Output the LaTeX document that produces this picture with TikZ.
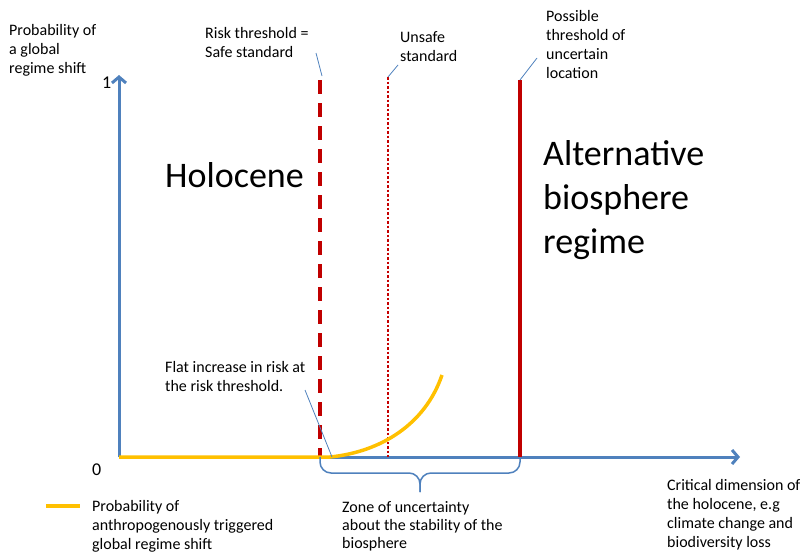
\documentclass[tikz,border=0pt]{standalone}
\usepackage{fontspec}
\setmainfont{Carlito}
\usetikzlibrary{arrows.meta}

\definecolor{axisblue}{HTML}{4F81BD}
\definecolor{threshred}{HTML}{C00000}
\definecolor{riskorange}{HTML}{FFC000}

\tikzset{
  lbl/.style={anchor=base west, align=left, inner sep=0pt, font=\fontsize{16}{19}\selectfont},
  bigtext/.style={anchor=base west, align=left, inner sep=0pt, font=\fontsize{36}{44}\selectfont},
  axisline/.style={draw=axisblue, line width=3pt, -{Straight Barb[length=6pt,width=14pt]}},
  leader/.style={draw=axisblue, line width=0.8pt},
  safeline/.style={draw=threshred, line width=4pt, dash pattern=on 14pt off 9pt},
  unsafeline/.style={draw=threshred!90!red, line width=2pt, dash pattern=on 2.5pt off 2pt},
  uncertainline/.style={draw=threshred, line width=4pt},
  riskcurve/.style={draw=riskorange, line width=3.5pt},
}

\begin{document}
\begin{tikzpicture}[x=1pt, y=-1pt]
\useasboundingbox (0,0) rectangle (801,552);

% axes
\coordinate (origin) at (119,457);
\coordinate (ytip) at (119,75);
\coordinate (xtip) at (740,457);
\draw[axisline] (origin) -- (ytip);
\draw[axisline] (origin) -- (xtip);
\node[lbl, font=\fontsize{18}{19}\selectfont] (one) at (102,88) {1};
\node[lbl, font=\fontsize{18}{19}\selectfont] (zero) at (92,475) {0};

% thresholds
\coordinate (safetop) at (320,80);
\coordinate (safebot) at (320,457);
\coordinate (unsafetop) at (388,77);
\coordinate (unsafebot) at (388,457);
\coordinate (uncerttop) at (520,80);
\coordinate (uncertbot) at (520,457);
\draw[safeline] (safetop) -- (safebot);
\draw[unsafeline] (unsafetop) -- (unsafebot);
\draw[uncertainline] (uncerttop) -- (uncertbot);

% probability curve
\coordinate (kink) at (330,457);
\coordinate (curveend) at (442,375);
\draw[riskcurve] (origin) -- (kink) .. controls (380,452) and (425,425) .. (curveend);

% labels (anchored at the baseline of their last line)
\node[lbl] (yaxislabel) at (9,73) {Probability of\\a global\\regime shift};
\node[lbl] (safelabel) at (205,57) {Risk threshold =\\Safe standard};
\node[lbl] (unsafelabel) at (400,61) {Unsafe\\standard};
\node[lbl] (uncertlabel) at (546,78) {Possible\\threshold of\\uncertain\\location};
\node[lbl] (flatlabel) at (165,391) {Flat increase in risk at\\the risk threshold.};
\node[lbl, font=\fontsize{16}{18}\selectfont] (zonelabel) at (342,548) {Zone of uncertainty\\about the stability of the\\biosphere};
\node[lbl] (xaxislabel) at (667,547) {Critical dimension of\\the holocene, e.g\\climate change and\\biodiversity loss};
\node[bigtext] (holocene) at (165,187) {Holocene};
\node[bigtext] (altregime) at (543,253) {Alternative\\biosphere\\regime};

% leaders
\coordinate (safelead) at (316,53);
\coordinate (safeend) at (322,76);
\coordinate (unsafelead) at (398,65);
\coordinate (uncertlead) at (537,58);
\coordinate (flatlead) at (305,390);
\coordinate (flatend) at (332,457);
\draw[leader] (safelead) -- (safeend);
\draw[leader] (unsafelead) -- (unsafetop);
\draw[leader] (uncertlead) -- (uncerttop);
\draw[leader] (flatlead) -- (flatend);

% zone brace
\coordinate (bracetip) at (420,492);
\draw[axisblue, line width=1.5pt, rounded corners=11pt]
  (safebot) -- (320,473) -- (420,473) -- (bracetip);
\draw[axisblue, line width=1.5pt, rounded corners=11pt]
  (uncertbot) -- (520,473) -- (420,473) -- (bracetip);

% legend
\coordinate (legstart) at (46,506);
\coordinate (legendend) at (80,506);
\draw[riskcurve] (legstart) -- (legendend);
\node[lbl] (legendlabel) at (92,549) {Probability of\\anthropogenously triggered\\global regime shift};
\end{tikzpicture}
\end{document}
